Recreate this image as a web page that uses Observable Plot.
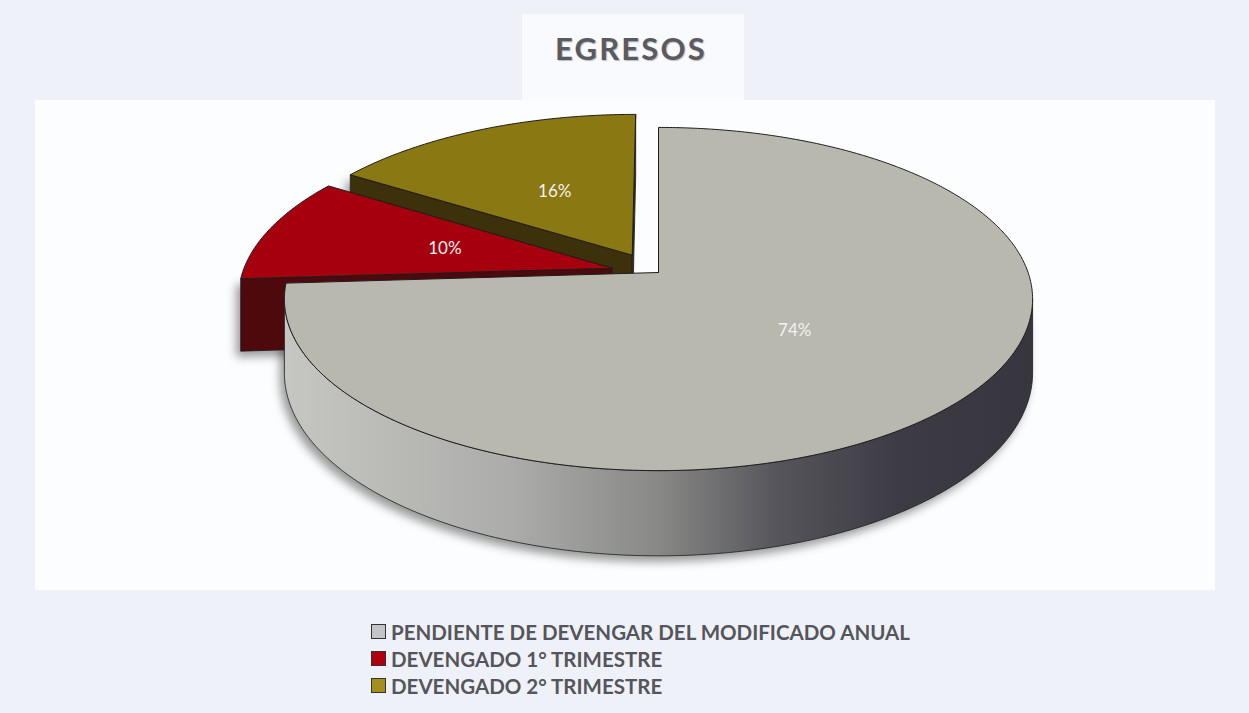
<!DOCTYPE html>
<html>
<head>
<meta charset="utf-8">
<script src="https://cdn.jsdelivr.net/npm/d3@7"></script>
<script src="https://cdn.jsdelivr.net/npm/@observablehq/plot@0.6"></script>
<style>
  html, body { margin: 0; padding: 0; }
  body { width: 1249px; height: 713px; overflow: hidden; background: #eef2f8; font-family: Lato, "Open Sans", sans-serif; }
  #wrap { position: relative; width: 1249px; height: 713px; }
  #plotbg { position: absolute; left: 35px; top: 100px; width: 1180px; height: 490px; background: #fcfdfe; }
  #titlebg { position: absolute; left: 522px; top: 14px; width: 222px; height: 86px; background: #f8fafd; }
  #title { position: absolute; left: 0; top: 29px; width: 1262px; text-align: center; font: 700 31px Lato, sans-serif; color: #5a5a60; letter-spacing: 2.2px; text-shadow: 1px 1px 1px rgba(0,0,0,0.25); }
  #chart { position: absolute; left: 0; top: 95px; }
  #legend { position: absolute; left: 371px; top: 618px; }
  .row { height: 27px; display: flex; align-items: center; font: 700 20.5px Lato, sans-serif; color: #55555b; white-space: nowrap; }
  .sw { width: 13px; height: 13px; border: 1px solid #333; margin-right: 5px; flex: none; }
</style>
</head>
<body>
<div id="wrap">
  <div id="plotbg"></div>
  <div id="titlebg"></div>
  <div id="title">EGRESOS</div>
  <div id="chart"></div>
  <div id="legend"></div>
</div>
<script>
// ---- data ----
const categories = [
  "PENDIENTE DE DEVENGAR DEL MODIFICADO ANUAL",
  "DEVENGADO 1° TRIMESTRE",
  "DEVENGADO 2° TRIMESTRE"
];
const values = [74, 10, 16];
const pctLabels = ["74%", "10%", "16%"];
const topColors = ["#b8b8ae", "#a6000f", "#8a7813"];
const sideColors = ["url(#graySide)", "#4e090c", "#3c310a"];
const faceColors = ["#9a9a96", "#4e090c", "#3c310a"];
const legendColors = ["#c4c4c8", "#b00010", "#a58f1c"];
const explode = [0, 0.13, 0.15];

// ---- layout / 3D look ----
const W = 1249, H = 510;
const D = 6.47;          // perspective distance (in radii)
const DEPTH = 0.43;      // pie thickness (in radii)
const LABEL_R = 0.48;
const CX = 658, RX = 369.6, CY = 177, RY = 167.5;
const SHADOW_FILL = "rgba(0,0,0,0.4)";

function proj(u, v, z = 0) {
  const f = D / (D - v);
  return [u * f, (v + z) * f];
}

const arcs = d3.pie().sort(null).value(d => d)(values);
const step = Math.PI / 360;
const sil = Math.acos(-1 / D);

function arcPts(a0, a1, ou, ov, z) {
  const n = Math.max(2, Math.ceil((a1 - a0) / step));
  return d3.range(n + 1).map(i => {
    const a = a0 + (a1 - a0) * i / n;
    return proj(ou + Math.sin(a), ov - Math.cos(a), z);
  });
}

const slices = arcs.map((arc, i) => {
  const mid = (arc.startAngle + arc.endAngle) / 2;
  const ou = explode[i] * Math.sin(mid), ov = -explode[i] * Math.cos(mid) * 0.8;
  const shapes = [];
  for (const [a, sign] of [[arc.startAngle, -1], [arc.endAngle, 1]]) {
    const nu = sign * Math.cos(a), nv = sign * Math.sin(a);
    const mu = ou + 0.5 * Math.sin(a), mv = ov - 0.5 * Math.cos(a);
    if (nu * (-mu) + nv * (D - mv) > 0.01) {
      const c0 = proj(ou, ov, 0), r0 = proj(ou + Math.sin(a), ov - Math.cos(a), 0);
      const r1 = proj(ou + Math.sin(a), ov - Math.cos(a), DEPTH), c1 = proj(ou, ov, DEPTH);
      shapes.push({ kind: "face", pts: [c0, r0, r1, c1, c0], fill: faceColors[i] });
    }
  }
  const s0 = Math.max(arc.startAngle, sil), s1 = Math.min(arc.endAngle, 2 * Math.PI - sil);
  if (s1 > s0) {
    const top = arcPts(s0, s1, ou, ov, 0), bot = arcPts(s0, s1, ou, ov, DEPTH).reverse();
    shapes.push({ kind: "side", pts: [...top, ...bot, top[0]], fill: sideColors[i] });
  }
  const c = proj(ou, ov, 0);
  shapes.push({ kind: "top", pts: [c, ...arcPts(arc.startAngle, arc.endAngle, ou, ov, 0), c], fill: topColors[i] });
  const lp = proj(ou + LABEL_R * Math.sin(mid), ov - LABEL_R * Math.cos(mid), 0);
  return { i, depth: ov - 0.5 * Math.cos(mid), shapes, label: { x: lp[0], y: lp[1], t: pctLabels[i] } };
});

const ordered = slices.slice().sort((a, b) => a.depth - b.depth);

const marks = [];
for (const s of ordered) {
  for (const sh of s.shapes) {
    if (sh.kind === "top") continue;
    marks.push(Plot.line(sh.pts.map(p => [p[0] - 0.012, p[1] + 0.035]), {
      x: d => d[0], y: d => d[1], fill: SHADOW_FILL, stroke: "none"
    }));
  }
}
for (const s of ordered) {
  for (const sh of s.shapes) {
    const f = sh.fill;
    marks.push(Plot.line(sh.pts, {
      x: d => d[0], y: d => d[1], fill: () => f, stroke: "#1c1c20",
      strokeWidth: sh.kind === "top" ? 1 : 0.8, strokeLinejoin: "round"
    }));
  }
}
marks.push(Plot.text(slices.map(s => s.label), {
  x: "x", y: "y", text: "t", fill: "#f2f2f2", fontSize: 17, fontFamily: "Lato, sans-serif"
}));

const svg = Plot.plot({
  width: W, height: H, margin: 0,
  x: { domain: [-1, 1], range: [CX - RX, CX + RX], axis: null },
  y: { domain: [-1, 1], range: [CY - RY, CY + RY], axis: null },
  color: { type: "identity" },
  style: { background: "transparent", overflow: "visible" },
  marks
});

const defs = d3.select(svg).insert("defs", ":first-child");
const grad = defs.append("linearGradient").attr("id", "graySide")
  .attr("gradientUnits", "userSpaceOnUse")
  .attr("x1", CX - RX * 1.01).attr("x2", CX + RX * 1.01).attr("y1", 0).attr("y2", 0);
[[0, "#c6c6c2"], [0.3, "#acacaa"], [0.5, "#888886"], [0.66, "#56555b"], [0.82, "#3d3b44"], [1, "#37353e"]]
  .forEach(([o, c]) => grad.append("stop").attr("offset", o).attr("stop-color", c));
const blur = defs.append("filter").attr("id", "blur").attr("x", "-20%").attr("y", "-20%").attr("width", "140%").attr("height", "140%");
blur.append("feGaussianBlur").attr("stdDeviation", 5);
d3.select(svg).selectAll("g").filter(function () { return this.getAttribute("fill") === SHADOW_FILL; })
  .attr("filter", "url(#blur)");

document.getElementById("chart").appendChild(svg);

const legend = d3.select("#legend");
categories.forEach((c, i) => {
  const row = legend.append("div").attr("class", "row");
  row.append("div").attr("class", "sw").style("background", legendColors[i]);
  row.append("span").text(c);
});
</script>
</body>
</html>
